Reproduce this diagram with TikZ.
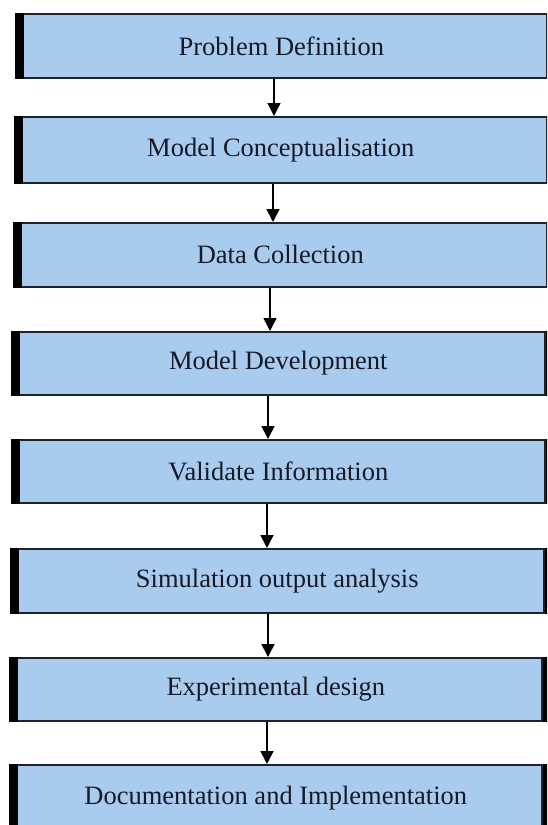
\documentclass[tikz,border=0pt]{standalone}
\usepackage{fontspec}
\setmainfont{Liberation Serif}
\usetikzlibrary{arrows.meta}
\definecolor{boxblue}{RGB}{169,203,238}
\definecolor{edgedark}{RGB}{30,34,48}
\definecolor{txt}{RGB}{22,26,40}
\tikzset{
  stagebox/.style={draw=edgedark, line width=1.6pt, fill=boxblue, inner sep=0pt, anchor=north west},
  stagetext/.style={font=\rmfamily\fontsize{26.5}{30}\selectfont, text=txt, inner sep=0pt},
  flowarrow/.style={draw=black, line width=1.6pt, -{Triangle[length=13pt,width=13pt]}},
  leftbar/.style={fill=black},
}
\newcommand{\stage}[7]{% name, x1, x2, y1, y2, text, right bar
  \node[stagebox, minimum width={#3pt-#2pt}, minimum height={#5pt-#4pt}] (#1) at (#2,#4) {};
  \node[stagetext] (#1t) at (#1.center) {#6};
  \fill[leftbar] (#1.north west) rectangle ([xshift=9pt]#1.south west);
  \ifnum#7>0 \fill[leftbar] (#1.north east) rectangle ([xshift=#7pt]#1.south east);\fi
}
\newcommand{\flowlink}[3]{% from, to, x
  \coordinate (x#1) at (#3,0);
  \draw[flowarrow] (#1.south -| x#1) -- (#2.north -| x#1);
}
\begin{document}
\begin{tikzpicture}[x=1pt,y=-1pt]
\useasboundingbox (0,0) rectangle (547,825);
\clip (0,0) rectangle (547,825);
\stage{b1}{15}{546}{13}{77}{Problem Definition}{0}
\stage{b2}{14}{546}{116}{182}{Model Conceptualisation}{0}
\stage{b3}{13}{546}{222}{286}{Data Collection}{0}
\stage{b4}{11}{544}{331}{394}{Model Development}{3}
\stage{b5}{11}{544}{439}{502}{Validate Information}{3}
\stage{b6}{10}{543}{548}{612}{Simulation output analysis}{4}
\stage{b7}{9}{541}{657}{720}{Experimental design}{6}
\stage{b8}{9}{541}{764}{830}{Documentation and Implementation}{6}
\flowlink{b1}{b2}{274}
\flowlink{b2}{b3}{273}
\flowlink{b3}{b4}{270}
\flowlink{b4}{b5}{268}
\flowlink{b5}{b6}{267}
\flowlink{b6}{b7}{268}
\flowlink{b7}{b8}{267}
\end{tikzpicture}
\end{document}
